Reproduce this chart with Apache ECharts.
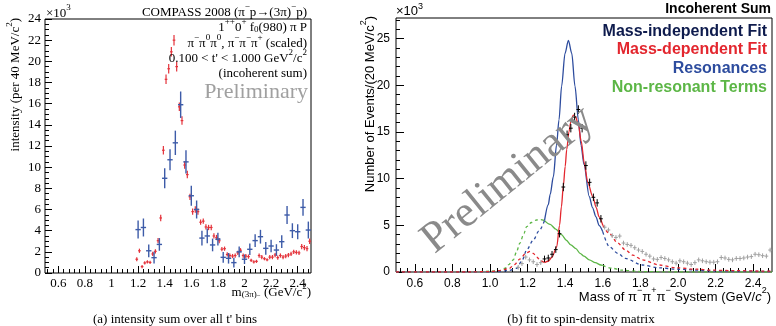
<!DOCTYPE html>
<html><head><meta charset="utf-8">
<script src="https://cdn.jsdelivr.net/npm/echarts@6/dist/echarts.min.js"></script>
<style>html,body{margin:0;padding:0;background:#fff}#c{width:776px;height:326px}</style>
</head><body><div id="c"></div>
<script>
// ---------- Left panel (a): intensity sum ----------
const leftBlueMass = [1.20,1.24,1.28,1.32,1.36,1.40,1.44,1.48,1.52,1.56,1.60,1.64,1.68,1.72,1.76,1.80,1.84,1.88,1.92,1.96,2.00,2.04,2.08,2.12,2.16,2.20,2.24,2.28,2.32,2.36,2.40,2.44,2.48];
const leftBlueVal  = [4.1,4.3,2.1,1.45,2.7,8.95,10.7,12.3,15.9,10.5,7.3,6.0,3.3,3.5,2.65,3.2,1.48,1.39,0.98,2.0,1.3,2.24,3.06,3.43,2.33,2.55,2.17,2.96,5.48,4.0,3.9,6.2,4.06];
const leftBlueErr  = [0.85,0.85,0.6,0.55,0.6,0.95,1.0,1.15,1.25,1.1,0.95,0.85,0.7,0.7,0.6,0.6,0.5,0.5,0.45,0.5,0.45,0.55,0.6,0.65,0.6,0.6,0.55,0.6,0.85,0.7,0.7,0.8,0.8];
const leftBlueHalfBin = 0.02;

const leftRedMass = [1.19,1.21,1.23,1.25,1.27,1.29,1.31,1.33,1.35,1.37,1.39,1.41,1.43,1.45,1.47,1.49,1.51,1.53,1.55,1.57,1.59,1.61,1.63,1.65,1.67,1.69,1.71,1.73,1.75,1.77,1.79,1.81,1.83,1.85,1.87,1.89,1.91,1.93,1.95,1.97,1.99,2.01,2.03,2.05,2.07,2.09,2.11,2.13,2.15,2.17,2.19,2.21,2.23,2.25,2.27,2.29,2.31,2.33,2.35,2.37,2.39,2.41,2.43,2.45,2.47,2.49];
const leftRedVal  = [1.3,2.1,0.6,0.95,1.05,1.0,1.8,2.05,3.05,5.2,11.6,18.3,19.3,20.9,22.0,19.5,15.7,14.4,10.2,9.3,7.2,5.8,6.0,5.8,4.8,4.9,4.35,4.3,4.3,3.5,3.35,3.05,2.25,2.3,1.75,1.65,1.6,1.65,1.9,2.15,1.65,1.6,1.55,1.2,1.05,1.1,1.65,1.5,1.35,1.25,1.5,1.5,1.7,1.45,1.65,1.5,1.6,1.7,1.8,2.0,1.95,1.9,2.5,2.4,2.3,3.0];
const leftRedErr  = [0.2,0.2,0.15,0.15,0.15,0.15,0.2,0.2,0.25,0.3,0.4,0.45,0.45,0.45,0.5,0.45,0.4,0.4,0.35,0.35,0.3,0.3,0.3,0.3,0.25,0.25,0.25,0.25,0.25,0.25,0.25,0.25,0.2,0.2,0.2,0.2,0.2,0.2,0.2,0.2,0.2,0.2,0.2,0.15,0.15,0.15,0.2,0.2,0.15,0.15,0.2,0.2,0.2,0.2,0.2,0.2,0.2,0.2,0.2,0.2,0.2,0.2,0.25,0.25,0.25,0.25];
const leftRedHalfBin = 0.01;

const leftXTicks = [0.6,0.8,1.0,1.2,1.4,1.6,1.8,2.0,2.2,2.4];
const leftYTicks = [0,2,4,6,8,10,12,14,16,18,20,22,24];

// ---------- Right panel (b): fit to spin-density matrix ----------
const rightDataMass = [1.29,1.31,1.33,1.35,1.37,1.39,1.41,1.43,1.45,1.47,1.49,1.51,1.53,1.55,1.57,1.59];
const rightDataVal  = [1.4,1.5,1.9,2.4,4.1,9.1,14.7,15.4,16.6,17.4,15.4,11.4,9.6,8.0,7.4,5.7];
const rightDataErr  = [0.35,0.35,0.35,0.35,0.4,0.45,0.45,0.45,0.45,0.45,0.45,0.45,0.4,0.4,0.4,0.4];

const rightGrayMass = [1.15,1.17,1.19,1.21,1.23,1.25,1.27,1.61,1.63,1.65,1.67,1.69,1.71,1.73,1.75,1.77,1.79,1.81,1.83,1.85,1.87,1.89,1.91,1.93,1.95,1.97,1.99,2.01,2.03,2.05,2.07,2.09,2.11,2.13,2.15,2.17,2.19,2.21,2.23,2.25,2.27,2.29,2.31,2.33,2.35,2.37,2.39,2.41,2.43,2.45,2.47,2.49];
const rightGrayVal  = [0.5,0.9,1.6,1.3,1.1,0.8,1.0,4.8,4.5,3.9,3.7,3.85,3.1,2.95,2.85,2.6,2.35,2.2,1.9,1.7,1.4,1.35,1.55,1.45,1.3,1.1,0.95,1.2,1.1,0.95,0.8,1.0,1.3,1.2,1.1,1.05,1.05,1.1,1.55,1.5,1.35,1.3,1.45,1.45,1.5,1.6,1.65,1.9,1.85,1.75,1.7,2.35];
const rightGrayErr = 0.25;
const rightHalfBin = 0.01;

// Resonances (blue)
const resLeftMass  = [0.5,0.9,1.0,1.05,1.1,1.142,1.17,1.195,1.23,1.26,1.29];
const resLeftVal   = [0,0,0.02,0.05,0.15,0.4,1.2,2.36,3.4,4.4,5.5];
const resMidMass   = [1.29,1.31,1.32,1.337,1.354,1.367,1.381,1.399,1.417,1.435,1.452,1.470,1.484,1.50,1.528,1.545,1.564,1.58,1.60];
const resMidVal    = [5.5,7.2,8.3,10.2,13.6,16.3,19.9,23.4,24.8,23.4,19.9,16.3,13.6,11.5,8.1,6.9,5.9,5.0,4.3];
const resRightMass = [1.60,1.635,1.68,1.72,1.81,1.9,1.99,2.2,2.5];
const resRightVal  = [4.3,2.7,2.0,1.45,0.75,0.45,0.3,0.12,0.05];

// Mass-dependent fit (red)
const mdLeftMass  = [0.5,0.9,1.0,1.05,1.1,1.13,1.16,1.19,1.213,1.23,1.248,1.27,1.29];
const mdLeftVal   = [0,0,0.05,0.15,0.35,0.8,1.4,2.0,2.2,2.0,1.6,1.2,1.0];
const mdMidMass   = [1.29,1.31,1.33,1.355,1.37,1.38,1.39,1.40,1.408,1.42,1.43,1.443,1.455,1.47,1.485,1.502,1.52,1.546,1.565,1.58,1.60];
const mdMidVal    = [1.0,1.15,1.6,2.7,5.0,7.0,9.2,11.3,13.1,15.0,16.1,16.8,16.6,15.8,14.0,11.6,9.6,8.1,6.9,5.9,5.0];
const mdRightMass = [1.60,1.635,1.68,1.72,1.76,1.81,1.9,1.99,2.1,2.17,2.3,2.45,2.5];
const mdRightVal  = [5.0,4.1,3.1,2.36,1.8,1.3,0.75,0.45,0.3,0.2,0.15,0.1,0.1];

// Non-resonant terms (green)
const nrLeftMass  = [0.5,0.8,0.95,1.0,1.05,1.08,1.1,1.124,1.14,1.159,1.18,1.195,1.22,1.248,1.27,1.29];
const nrLeftVal   = [0,0.02,0.05,0.08,0.15,0.4,0.8,1.3,2.1,3.1,4.1,4.86,5.3,5.57,5.6,5.5];
const nrMidMass   = [1.29,1.32,1.35,1.38,1.406,1.43,1.457,1.479,1.50,1.528,1.56,1.59,1.60];
const nrMidVal    = [5.5,5.1,4.6,4.0,3.4,2.9,2.5,2.0,1.7,1.3,1.0,0.75,0.7];
const nrRightMass = [1.60,1.65,1.7,1.8,2.0,2.5];
const nrRightVal  = [0.7,0.4,0.2,0.05,0,0];

const rightXTicks = [0.6,0.8,1.0,1.2,1.4,1.6,1.8,2.0,2.2,2.4];
const rightYTicks = [0,5,10,15,20,25];

// ---------- helpers ----------
const SERIF = '"Liberation Serif", "DejaVu Serif", serif';
const SANS = '"Liberation Sans", Arial, sans-serif';
function zip(a, b) { return a.map((v, i) => [v, b[i]]); }
function minorList(start, end, step, majors) {
  const out = [];
  for (let v = start; v <= end + 1e-9; v += step) {
    const r = Math.round(v * 1000) / 1000;
    if (!majors.some(m => Math.abs(m - r) < 1e-6)) out.push(r);
  }
  return out;
}
function errRender(color, lw) {
  return function (params, api) {
    const x = api.value(0), y = api.value(1), ex = api.value(2), ey = api.value(3);
    const l = api.coord([x - ex, y]), r = api.coord([x + ex, y]);
    const t = api.coord([x, y + ey]), b = api.coord([x, y - ey]);
    return { type: 'group', children: [
      { type: 'line', shape: { x1: l[0], y1: l[1], x2: r[0], y2: r[1] }, style: { stroke: color, lineWidth: lw } },
      { type: 'line', shape: { x1: t[0], y1: t[1], x2: b[0], y2: b[1] }, style: { stroke: color, lineWidth: lw } }
    ]};
  };
}
function errSeries(xi, yi, mass, val, err, hx, color, lw) {
  return {
    type: 'custom', xAxisIndex: xi, yAxisIndex: yi,
    renderItem: errRender(color, lw),
    encode: { x: 0, y: 1 },
    data: mass.map((m, i) => [m, val[i], hx, Array.isArray(err) ? err[i] : err]),
    z: 5, silent: true
  };
}
function lineSeries(xi, yi, mass, val, color, dashed, z) {
  return {
    type: 'line', xAxisIndex: xi, yAxisIndex: yi, data: zip(mass, val),
    showSymbol: false, smooth: 0.3, smoothMonotone: 'x', silent: true, z: z || 3,
    lineStyle: { color: color, width: 1.3, type: dashed ? [3, 3] : 'solid' }
  };
}
function majAxis(grid, type, min, max, ticks, fmt, font, size, margin, tickLen) {
  return {
    type: 'value', gridIndex: grid, min: min, max: max, position: type === 'x' ? 'bottom' : 'left',
    splitLine: { show: false }, axisLine: { show: false },
    axisTick: { show: true, inside: true, length: tickLen, customValues: ticks, lineStyle: { color: '#000', width: 1 } },
    axisLabel: { show: true, customValues: ticks, formatter: fmt, fontFamily: font, fontSize: size, color: '#000', margin: margin }
  };
}
function minAxis(grid, type, min, max, ticks, tickLen) {
  return {
    type: 'value', gridIndex: grid, min: min, max: max, position: type === 'x' ? 'bottom' : 'left',
    splitLine: { show: false }, axisLine: { show: false },
    axisTick: { show: true, inside: true, length: tickLen, customValues: ticks, lineStyle: { color: '#000', width: 1 } },
    axisLabel: { show: false }
  };
}

const leftXMinor = minorList(0.52, 2.48, 0.04, leftXTicks);
const leftYMinor = minorList(0.5, 23.5, 0.5, leftYTicks);
const rightXMinor = minorList(0.52, 2.48, 0.04, rightXTicks);
const rightYMinor = minorList(1, 27, 1, rightYTicks);

function serifText(x, y, text, rich, extra) {
  return Object.assign({ type: 'text', x: x, y: y, z: 50, silent: true,
    style: { text: text, rich: rich, align: 'right', verticalAlign: 'middle', fontFamily: SERIF, fontSize: 13, fill: '#000' } }, extra || {});
}
const bS = (c) => ({ fontFamily: SERIF, fontSize: 13, lineHeight: 17, verticalAlign: 'bottom', color: c || '#000' });
const uS = (c) => ({ fontFamily: SERIF, fontSize: 9, lineHeight: 9, verticalAlign: 'top', color: c || '#000' });
const dS = (c) => ({ fontFamily: SERIF, fontSize: 9, lineHeight: 9, verticalAlign: 'bottom', color: c || '#000' });
const BLUE_L = '#3d5ba8', RED_L = '#e4323a';

const chart = echarts.init(document.getElementById('c'), null, { renderer: 'canvas' });
chart.setOption({
  animation: false,
  backgroundColor: '#fff',
  grid: [
    { left: 45, top: 19, width: 266, height: 254, show: true, borderColor: '#000', borderWidth: 1, backgroundColor: 'transparent' },
    { left: 396, top: 18, width: 376, height: 254, show: true, borderColor: '#000', borderWidth: 1, backgroundColor: 'transparent' }
  ],
  xAxis: [
    majAxis(0, 'x', 0.5, 2.5, leftXTicks, v => String(+(+v).toFixed(1)), SERIF, 13, 4, 7),
    minAxis(0, 'x', 0.5, 2.5, leftXMinor, 4),
    majAxis(1, 'x', 0.5, 2.5, rightXTicks, v => (+v).toFixed(1), SANS, 12, 6, 8),
    minAxis(1, 'x', 0.5, 2.5, rightXMinor, 4)
  ],
  yAxis: [
    majAxis(0, 'y', 0, 24, leftYTicks, v => String(v), SERIF, 13, 4, 7),
    minAxis(0, 'y', 0, 24, leftYMinor, 4),
    majAxis(1, 'y', 0, 27.2, rightYTicks, v => String(v), SANS, 12, 6, 8),
    minAxis(1, 'y', 0, 27.2, rightYMinor, 4)
  ],
  series: [
    errSeries(0, 0, leftRedMass, leftRedVal, leftRedErr, leftRedHalfBin, RED_L, 1.2),
    errSeries(0, 0, leftBlueMass, leftBlueVal, leftBlueErr, leftBlueHalfBin, BLUE_L, 1.4),

    errSeries(2, 2, rightGrayMass, rightGrayVal, rightGrayErr, rightHalfBin, '#a0a0a0', 1),
    lineSeries(2, 2, nrLeftMass, nrLeftVal, '#5cb646', true),
    lineSeries(2, 2, nrMidMass, nrMidVal, '#5cb646', false),
    lineSeries(2, 2, nrRightMass, nrRightVal, '#5cb646', true),
    lineSeries(2, 2, resLeftMass, resLeftVal, '#2d4c9e', true),
    lineSeries(2, 2, resMidMass, resMidVal, '#2d4c9e', false),
    lineSeries(2, 2, resRightMass, resRightVal, '#2d4c9e', true),
    lineSeries(2, 2, mdLeftMass, mdLeftVal, '#e3262e', true, 4),
    lineSeries(2, 2, mdMidMass, mdMidVal, '#e3262e', false, 4),
    lineSeries(2, 2, mdRightMass, mdRightVal, '#e3262e', true, 4),
    errSeries(2, 2, rightDataMass, rightDataVal, rightDataErr, rightHalfBin, '#000', 1)
  ],
  graphic: [
    // ----- left panel texts -----
    { type: 'text', x: 46, y: 12, z: 50, silent: true, style: { text: '{a|×10}{s|3}', rich: { a: bS(), s: uS() }, align: 'left', verticalAlign: 'middle' } },
    serifText(307, 11, '{a|COMPASS 2008 (π}{s|−}{a|p→(3π)}{s|−}{a|p)}', { a: bS(), s: uS() }),
    serifText(307, 26, '{a|1}{s|++}{a|0}{s|+}{a| f}{d|0}{a|(980) π P}', { a: bS(), s: uS(), d: dS() }),
    serifText(307, 42, '{a|π}{s|−}{a|π}{s|0}{a|π}{s|0}{a|, }{b|π}{t|−}{b|π}{t|−}{b|π}{t|+}{b| (scaled)}',
      { a: bS(BLUE_L), s: uS(BLUE_L), b: bS(RED_L), t: uS(RED_L) }),
    serifText(307, 57, '{a|0.100 < t\' < 1.000 GeV}{s|2}{a|/c}{s|2}', { a: bS(), s: uS() }),
    serifText(307, 72, '{a|(incoherent sum)}', { a: bS() }),
    { type: 'text', x: 308, y: 92, z: 50, silent: true, style: { text: 'Preliminary', align: 'right', verticalAlign: 'middle', fontFamily: SERIF, fontSize: 22, fill: '#a0a0a0' } },
    { type: 'text', x: 14, y: 18, rotation: Math.PI / 2, z: 50, silent: true,
      style: { text: '{a|intensity (per 40 MeV/c}{s|2}{a|)}', rich: { a: bS(), s: uS() }, align: 'right', verticalAlign: 'middle' } },
    serifText(311, 291, '{a|m}{d|(3π)}{e|−}{a| (GeV/c}{s|2}{a|)}', { a: bS(), s: uS(), d: dS(), e: { fontFamily: SERIF, fontSize: 7, lineHeight: 9, verticalAlign: 'bottom' } }),
    { type: 'text', x: 175, y: 320, z: 50, silent: true, style: { text: '(a) intensity sum over all t\' bins', align: 'center', verticalAlign: 'middle', fontFamily: SERIF, fontSize: 13, fill: '#000' } },
    { type: 'text', x: 581, y: 320, z: 50, silent: true, style: { text: '(b) fit to spin-density matrix', align: 'center', verticalAlign: 'middle', fontFamily: SERIF, fontSize: 13, fill: '#000' } },

    // ----- right panel texts -----
    { type: 'text', x: 396, y: 10, z: 50, silent: true,
      style: { text: '{a|×10}{s|3}', rich: { a: { fontFamily: SANS, fontSize: 13, lineHeight: 16, verticalAlign: 'bottom' }, s: { fontFamily: SANS, fontSize: 9, lineHeight: 9, verticalAlign: 'top' } }, align: 'left', verticalAlign: 'middle' } },
    { type: 'text', x: 771, y: 9, z: 50, silent: true, style: { text: 'Incoherent Sum', align: 'right', verticalAlign: 'middle', fontFamily: SANS, fontWeight: 'bold', fontSize: 14, fill: '#000' } },
    { type: 'text', x: 767, y: 32, z: 50, silent: true, style: { text: 'Mass-independent Fit', align: 'right', verticalAlign: 'middle', fontFamily: SANS, fontWeight: 'bold', fontSize: 16, fill: '#0e1b4d' } },
    { type: 'text', x: 767, y: 50, z: 50, silent: true, style: { text: 'Mass-dependent Fit', align: 'right', verticalAlign: 'middle', fontFamily: SANS, fontWeight: 'bold', fontSize: 16, fill: '#e3262e' } },
    { type: 'text', x: 767, y: 69, z: 50, silent: true, style: { text: 'Resonances', align: 'right', verticalAlign: 'middle', fontFamily: SANS, fontWeight: 'bold', fontSize: 16, fill: '#2d4c9e' } },
    { type: 'text', x: 767, y: 88, z: 50, silent: true, style: { text: 'Non-resonant Terms', align: 'right', verticalAlign: 'middle', fontFamily: SANS, fontWeight: 'bold', fontSize: 16, fill: '#5cb646' } },
    { type: 'text', x: 368, y: 16, rotation: Math.PI / 2, z: 50, silent: true,
      style: { text: '{a|Number of Events/(20 MeV/c}{s|2}{a|)}', rich: { a: { fontFamily: SANS, fontSize: 13, lineHeight: 17, verticalAlign: 'bottom' }, s: { fontFamily: SANS, fontSize: 9, lineHeight: 9, verticalAlign: 'top' } }, align: 'right', verticalAlign: 'middle' } },
    { type: 'text', x: 771, y: 295, z: 50, silent: true,
      style: { text: '{a|Mass of π}{s|−}{a|π}{s|+}{a|π}{s|−}{a| System (GeV/}{i|c}{s|2}{a|)}',
        rich: { a: { fontFamily: SANS, fontSize: 13, lineHeight: 17, verticalAlign: 'bottom' }, i: { fontFamily: SANS, fontStyle: 'italic', fontSize: 13, lineHeight: 17, verticalAlign: 'bottom' }, s: { fontFamily: SANS, fontSize: 9, lineHeight: 9, verticalAlign: 'top' } },
        align: 'right', verticalAlign: 'middle' } },
    { type: 'text', x: 508, y: 180, rotation: 0.68, z: 40, silent: true,
      style: { text: 'Preliminary', align: 'center', verticalAlign: 'middle', fontFamily: SERIF, fontSize: 44, fill: '#8a8a8a' } }
  ]
});
</script>
</body></html>
